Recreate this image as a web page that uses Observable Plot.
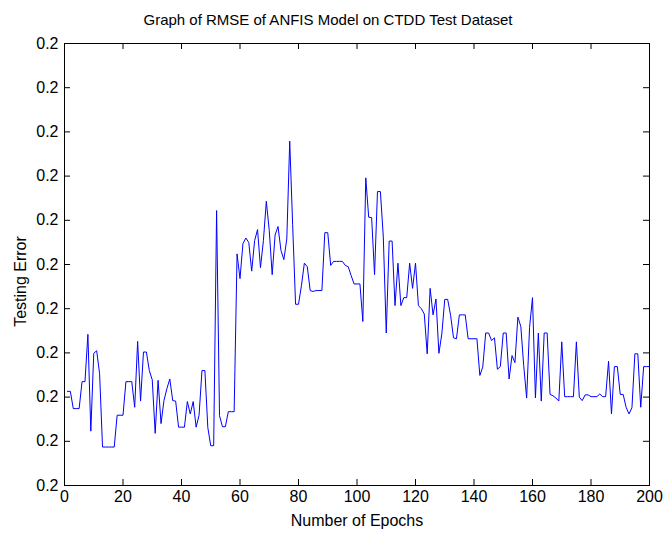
<!DOCTYPE html>
<html><head><meta charset="utf-8">
<script src="https://cdn.jsdelivr.net/npm/d3@7"></script>
<script src="https://cdn.jsdelivr.net/npm/@observablehq/plot@0.6"></script>
<style>body{margin:0;background:#fff;} #chart svg{display:block;}</style>
</head><body><div id="chart"></div>
<script>
const titleText = "Graph of RMSE of ANFIS Model on CTDD Test Dataset";
const xLabel = "Number of Epochs";
const yLabel = "Testing Error";

// x tick values (epochs)
const xTicks = [0, 20, 40, 60, 80, 100, 120, 140, 160, 180, 200];
// y ticks (in tick-step units) and their printed labels (all read "0.2")
const yTicks = [0, 1, 2, 3, 4, 5, 6, 7, 8, 9, 10];
const yTickLabels = ["0.2","0.2","0.2","0.2","0.2","0.2","0.2","0.2","0.2","0.2","0.2"];

// testing error per epoch 1..200 (in tick-step units above the bottom tick)
const testingError = [
  2.13, 2.13, 1.74, 1.74, 1.74, 2.35, 2.35, 3.42, 1.23, 2.99,
  3.05, 2.53, 0.87, 0.87, 0.87, 0.87, 0.87, 1.59, 1.59, 1.59,
  2.35, 2.35, 2.35, 1.77, 3.26, 1.91, 3.02, 3.02, 2.60, 2.39,
  1.18, 2.38, 1.40, 1.92, 2.19, 2.41, 1.92, 1.91, 1.32, 1.32,
  1.32, 1.90, 1.62, 1.90, 1.32, 1.59, 2.60, 2.60, 1.31, 0.90,
  0.90, 6.22, 1.58, 1.33, 1.33, 1.67, 1.67, 1.67, 5.24, 4.68,
  5.47, 5.60, 5.50, 4.85, 5.54, 5.79, 4.93, 5.54, 6.43, 5.77,
  4.77, 5.67, 5.86, 5.32, 5.11, 5.58, 7.79, 5.90, 4.10, 4.10,
  4.52, 5.03, 4.95, 4.41, 4.39, 4.41, 4.41, 4.41, 5.72, 5.72,
  4.98, 5.07, 5.07, 5.07, 5.07, 4.98, 4.95, 4.75, 4.56, 4.56,
  4.56, 3.71, 6.96, 6.07, 6.06, 4.77, 6.65, 6.65, 5.62, 3.45,
  5.53, 5.53, 4.07, 5.03, 4.07, 4.25, 4.25, 5.03, 4.46, 5.03,
  4.07, 4.00, 3.88, 2.98, 4.46, 3.86, 4.22, 2.99, 3.43, 4.21,
  4.21, 3.85, 3.34, 3.32, 3.86, 3.86, 3.86, 3.32, 3.32, 3.32,
  3.32, 2.49, 2.68, 3.45, 3.45, 3.28, 3.34, 2.63, 2.69, 3.45,
  3.45, 2.41, 2.94, 2.78, 3.81, 3.60, 2.71, 1.98, 3.58, 4.25,
  1.98, 3.45, 1.91, 3.45, 3.45, 2.06, 2.03, 1.98, 1.91, 3.25,
  2.01, 2.01, 2.01, 2.01, 3.25, 2.00, 1.92, 2.05, 2.05, 2.01,
  2.01, 2.01, 2.07, 2.01, 2.01, 2.81, 1.62, 2.69, 2.69, 2.06,
  2.06, 1.77, 1.62, 1.76, 2.98, 2.98, 1.77, 2.69, 2.69, 2.69
];
const data = testingError.map((v, i) => ({epoch: i + 1, err: v}));

const W = 664, H = 540;
const mT = 43, mR = 15, mB = 55, mL = 64;
const plotH = H - mT - mB, plotW = W - mL - mR;
const TL = 6; // inward tick length
const font = "'Liberation Sans', Arial, Helvetica, sans-serif";

const chart = Plot.plot({
  width: W, height: H,
  marginTop: mT, marginRight: mR, marginBottom: mB, marginLeft: mL,
  style: {fontFamily: font, fontSize: "16px", color: "black", background: "white"},
  x: {domain: [0, 200]},
  y: {domain: [0, 10]},
  marks: [
    Plot.line(data, {x: "epoch", y: "err", stroke: "#0000ff", strokeWidth: 1}),
    // inward ticks on all four sides
    Plot.tickX(xTicks, {x: d => d, stroke: "black", insetTop: plotH - TL}),
    Plot.tickX(xTicks, {x: d => d, stroke: "black", insetBottom: plotH - TL}),
    Plot.tickY(yTicks, {y: d => d, stroke: "black", insetRight: plotW - TL}),
    Plot.tickY(yTicks, {y: d => d, stroke: "black", insetLeft: plotW - TL}),
    Plot.frame({stroke: "black", strokeWidth: 1}),
    Plot.axisX({ticks: xTicks, tickSize: 0, tickPadding: 5, label: null, fontSize: 16}),
    Plot.axisY({ticks: yTicks, tickSize: 0, tickPadding: 6, label: null, fontSize: 16,
      tickFormat: (d) => yTickLabels[yTicks.indexOf(d)]}),
    Plot.text([titleText], {frameAnchor: "top", dx: -29, dy: -23, fontSize: 15, lineAnchor: "middle", textAnchor: "middle"}),
    Plot.text([xLabel], {frameAnchor: "bottom", dy: 35, fontSize: 16, lineAnchor: "middle", textAnchor: "middle"}),
    Plot.text([yLabel], {frameAnchor: "left", dx: -44, dy: 17, rotate: -90, fontSize: 16, lineAnchor: "middle", textAnchor: "middle"})
  ]
});
document.getElementById("chart").appendChild(chart);
</script>
</body></html>
